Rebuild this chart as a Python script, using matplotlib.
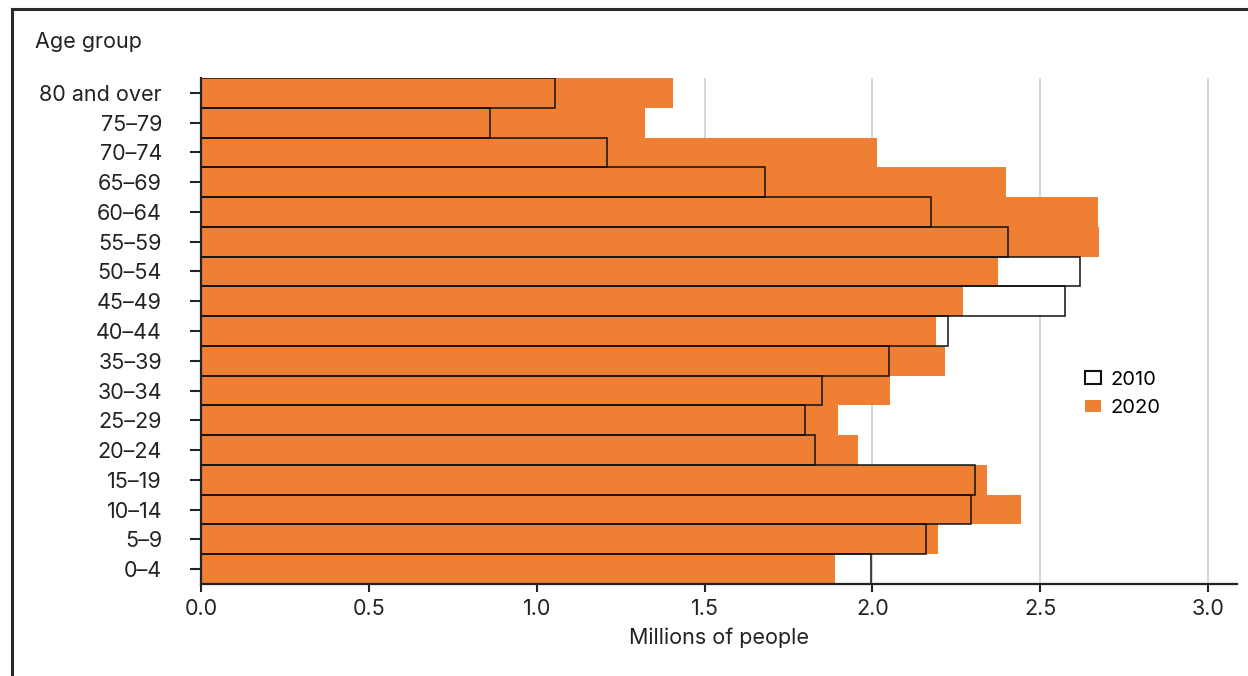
import numpy as np
import matplotlib.pyplot as plt
from matplotlib.patches import Patch
from matplotlib.lines import Line2D

plt.rcParams['font.family'] = ['Inter', 'DejaVu Sans']

age_groups = ['0–4', '5–9', '10–14', '15–19', '20–24', '25–29', '30–34', '35–39',
              '40–44', '45–49', '50–54', '55–59', '60–64', '65–69', '70–74', '75–79',
              '80 and over']
pop_2010 = [1.996, 2.160, 2.294, 2.306, 1.829, 1.799, 1.850, 2.049,
            2.225, 2.574, 2.618, 2.404, 2.175, 1.680, 1.209, 0.861, 1.055]
pop_2020 = [1.889, 2.195, 2.443, 2.341, 1.957, 1.898, 2.052, 2.216,
            2.189, 2.270, 2.374, 2.675, 2.672, 2.398, 2.014, 1.323, 1.406]
x_ticks = [0.0, 0.5, 1.0, 1.5, 2.0, 2.5, 3.0]

orange = '#EE7F33'
fs = 15.5
y = np.arange(len(age_groups))

fig = plt.figure(figsize=(12.48, 6.76), dpi=100)
ax = fig.add_axes([201/1248, 1 - 584/676, 1036/1248, 506/676])

# white 2010 fill, orange 2020 on top, then the 2010 outlines over everything
ax.barh(y, pop_2010, height=1.0, color='white', edgecolor='none', zorder=2)
ax.barh(y, pop_2020, height=1.0, color=orange, edgecolor='none', zorder=3)
ax.barh(y, pop_2010, height=1.0, facecolor='none', edgecolor='#111111', lw=1.1, zorder=4)

ax.set_xlim(0, 3.086)
ax.set_ylim(-0.5, len(age_groups) - 0.5)
ax.set_xticks(x_ticks)
ax.set_xticklabels(['%.1f' % t for t in x_ticks])
ax.set_yticks(y)
ax.set_yticklabels(age_groups)
ax.xaxis.grid(True, color='#d4d4d4', lw=1.3, zorder=0)
ax.set_axisbelow(True)

for s in ['top', 'right']:
    ax.spines[s].set_visible(False)
for s in ['left', 'bottom']:
    ax.spines[s].set_linewidth(1.6)
    ax.spines[s].set_color('#222222')
    ax.spines[s].set_zorder(5)

ax.tick_params(axis='y', length=8, width=1.5, pad=20, labelsize=fs, colors='#222222')
ax.tick_params(axis='x', length=6, width=1.5, pad=5, labelsize=fs, colors='#222222')
ax.set_xlabel('Millions of people', fontsize=fs, color='#222222', labelpad=6)

fig.text(35/1248, 1 - 42/676, 'Age group', fontsize=fs, color='#222222', va='center', ha='left')

handles = [Patch(facecolor='white', edgecolor='#111111', lw=1.5, label='2010'),
           Patch(facecolor=orange, edgecolor='none', label='2020')]
fig.legend(handles=handles, loc='center left', bbox_to_anchor=(1085/1248, 1 - 394/676),
           frameon=False, fontsize=14.5, handlelength=0.8, handleheight=0.6,
           handletextpad=0.45, labelspacing=0.5, borderpad=0, borderaxespad=0)

# outer frame (top and left edges)
fig.add_artist(Line2D([12/1248, 1], [1 - 9/676, 1 - 9/676], transform=fig.transFigure,
                      color='#2a2a2a', lw=2.2))
fig.add_artist(Line2D([12/1248, 12/1248], [0, 1 - 9/676], transform=fig.transFigure,
                      color='#2a2a2a', lw=2.2))

fig.savefig('out.png', dpi=100)
